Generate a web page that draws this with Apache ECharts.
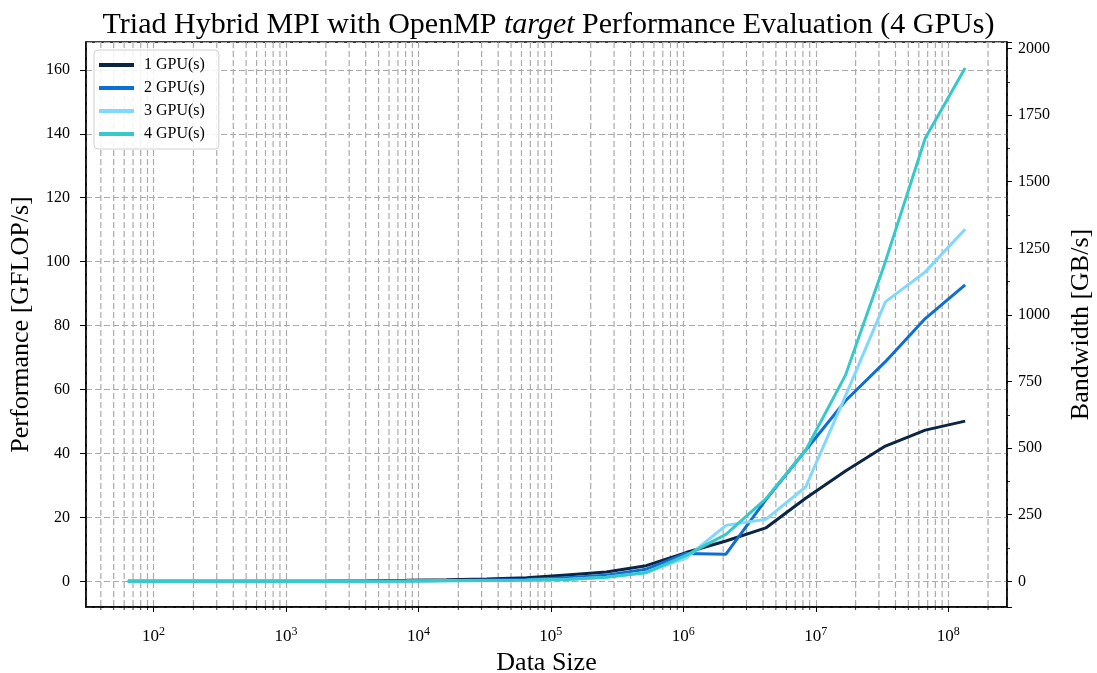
<!DOCTYPE html>
<html>
<head>
<meta charset="utf-8">
<script src="https://cdn.jsdelivr.net/npm/echarts@6/dist/echarts.min.js"></script>
<style>
  html, body { margin: 0; padding: 0; background: #fff; }
  #chart { width: 1097px; height: 673px; }
</style>
</head>
<body>
<div id="chart"></div>
<script>
// Problem sizes: 2^6 ... 2^27 elements
const dataSize = [64, 128, 256, 512, 1024, 2048, 4096, 8192, 16384, 32768, 65536, 131072,
  262144, 524288, 1048576, 2097152, 4194304, 8388608, 16777216, 33554432, 67108864, 134217728];

// Measured performance in GFLOP/s
const gpu1 = [0.003, 0.006, 0.012, 0.024, 0.045, 0.09, 0.17, 0.3, 0.5, 0.75, 1.1, 2.0,
  2.9, 4.9, 9.0, 12.6, 16.7, 26.0, 34.5, 42.3, 47.3, 50.1];
const gpu2 = [0.001, 0.002, 0.004, 0.008, 0.016, 0.03, 0.06, 0.12, 0.22, 0.4, 0.6, 1.1,
  1.9, 3.8, 8.7, 8.5, 25.5, 41.0, 56.5, 68.7, 82.2, 92.7];
const gpu3 = [0.001, 0.002, 0.003, 0.006, 0.012, 0.025, 0.05, 0.09, 0.16, 0.25, 0.3, 0.6,
  1.3, 2.8, 7.3, 17.5, 19.4, 29.5, 58.0, 87.4, 96.8, 110.1];
const gpu4 = [0.001, 0.002, 0.003, 0.006, 0.012, 0.025, 0.05, 0.09, 0.16, 0.25, 0.35, 0.6,
  1.3, 2.7, 8.1, 14.7, 25.8, 41.0, 64.5, 100.0, 138.6, 160.6];

const seriesNames = ['1 GPU(s)', '2 GPU(s)', '3 GPU(s)', '4 GPU(s)'];
const seriesColors = ['#0b2545', '#0d6fd4', '#80d8ff', '#36c9c9'];
const seriesValues = [gpu1, gpu2, gpu3, gpu4];

// Triad moves 24 bytes per 2 flops -> 12 GB/s per GFLOP/s
const bytesPerFlop = 12;

// Axis ranges
const xMin = 30.9, xMax = 2.78e8;
const perfMin = -8.03, perfMax = 168.7;

// Minor decade ticks (2..9 x 10^n) inside the x range
const minorTicks = [];
for (let e = 1; e <= 8; e++) {
  for (let m = 2; m <= 9; m++) {
    const v = m * Math.pow(10, e);
    if (v > xMin && v < xMax) minorTicks.push(v);
  }
}

const FONT = 'Liberation Serif';
const gridLine = { color: '#ababab', width: 1.2, type: [6, 3] };

const chart = echarts.init(document.getElementById('chart'), null, { renderer: 'canvas' });

const lineSeries = seriesNames.map((name, i) => ({
  name: name,
  type: 'line',
  data: dataSize.map((x, j) => [x, seriesValues[i][j]]),
  showSymbol: false,
  symbol: 'none',
  lineStyle: { color: seriesColors[i], width: 3 },
  itemStyle: { color: seriesColors[i] },
  z: 5 + i
}));

chart.setOption({
  animation: false,
  backgroundColor: '#ffffff',
  title: {
    text: '{a|Triad Hybrid MPI with OpenMP }{i|target}{a| Performance Evaluation (4 GPUs)}',
    left: 'center',
    top: 5,
    textStyle: {
      fontWeight: 'normal',
      rich: {
        a: { fontFamily: FONT, fontSize: 30, fontWeight: 'normal', color: '#000' },
        i: { fontFamily: FONT, fontSize: 30, fontWeight: 'normal', fontStyle: 'italic', color: '#000' }
      }
    }
  },
  legend: {
    data: seriesNames,
    orient: 'vertical',
    left: 94,
    top: 50,
    padding: [7, 14, 7, 5],
    itemGap: 7,
    itemWidth: 35,
    itemHeight: 4,
    icon: 'rect',
    backgroundColor: 'rgba(255,255,255,0.85)',
    borderColor: '#d0d0d0',
    borderWidth: 1,
    borderRadius: 4,
    textStyle: { fontFamily: FONT, fontSize: 16, color: '#000', lineHeight: 16, padding: [0, 0, 0, 5] }
  },
  grid: {
    left: 86, right: 90, top: 42, bottom: 66,
    outerBoundsMode: 'none',
    containLabel: false,
    show: true, borderColor: '#000', borderWidth: 1.5, backgroundColor: 'transparent'
  },
  xAxis: {
    type: 'log',
    logBase: 10,
    min: xMin,
    max: xMax,
    name: 'Data Size',
    nameLocation: 'middle',
    nameGap: 39,
    nameTextStyle: { fontFamily: FONT, fontSize: 26, color: '#000' },
    axisLine: { show: true, onZero: false, lineStyle: { color: '#000', width: 1.5 } },
    axisTick: { show: true, length: 5, lineStyle: { color: '#000', width: 1 } },
    splitLine: { show: true, lineStyle: gridLine },
    minorTick: { show: false },
    axisLabel: {
      margin: 19,
      showMinLabel: false,
      showMaxLabel: false,
      formatter: function (v) {
        const e = Math.round(Math.log10(v));
        return '{b|10}{s|' + e + '}';
      },
      rich: {
        b: { fontFamily: FONT, fontSize: 17, color: '#000', lineHeight: 22 },
        s: { fontFamily: FONT, fontSize: 12, color: '#000', lineHeight: 12, verticalAlign: 'top' }
      }
    }
  },
  yAxis: [
    {
      type: 'value',
      position: 'left',
      min: perfMin,
      max: perfMax,
      minInterval: 20,
      maxInterval: 20,
      name: 'Performance [GFLOP/s]',
      nameLocation: 'middle',
      nameGap: 52,
      nameTextStyle: { fontFamily: FONT, fontSize: 26, color: '#000' },
      axisLine: { show: true, lineStyle: { color: '#000', width: 1.5 } },
      axisTick: { show: true, length: 6, lineStyle: { color: '#000', width: 1 } },
      splitLine: { show: true, lineStyle: gridLine },
      axisLabel: {
        margin: 16, showMinLabel: false, showMaxLabel: false,
        fontFamily: FONT, fontSize: 16, color: '#000'
      }
    },
    {
      type: 'value',
      position: 'right',
      min: perfMin * bytesPerFlop,
      max: perfMax * bytesPerFlop,
      minInterval: 250,
      maxInterval: 250,
      name: 'Bandwidth [GB/s]',
      nameLocation: 'middle',
      nameGap: 61,
      nameRotate: 90,
      nameTextStyle: { fontFamily: FONT, fontSize: 26, color: '#000' },
      axisLine: { show: true, lineStyle: { color: '#000', width: 1.5 } },
      axisTick: { show: true, length: 5, lineStyle: { color: '#000', width: 1 } },
      minorTick: { show: true, splitNumber: 2, length: 3, lineStyle: { color: '#000', width: 0.8 } },
      splitLine: { show: false },
      axisLabel: {
        margin: 11, showMinLabel: false, showMaxLabel: false,
        fontFamily: FONT, fontSize: 16, color: '#000',
        formatter: function (v) { return String(Math.round(v)); }
      }
    }
  ],
  series: [
    {
      // minor decade grid lines and ticks
      name: 'minor',
      type: 'custom',
      silent: true,
      z: 1,
      clip: false,
      data: minorTicks.map(v => [v, 0]),
      renderItem: function (params, api) {
        const cs = params.coordSys;
        const x = api.coord([api.value(0), 0])[0];
        const bottom = cs.y + cs.height;
        return {
          type: 'group',
          children: [
            {
              type: 'line',
              shape: { x1: x, y1: cs.y, x2: x, y2: bottom },
              style: { stroke: '#ababab', lineWidth: 1.2, lineDash: [6, 3] }
            },
            {
              type: 'line',
              shape: { x1: x, y1: bottom, x2: x, y2: bottom + 3 },
              style: { stroke: '#000', lineWidth: 0.8 }
            }
          ]
        };
      }
    }
  ].concat(lineSeries)
});
</script>
</body>
</html>
